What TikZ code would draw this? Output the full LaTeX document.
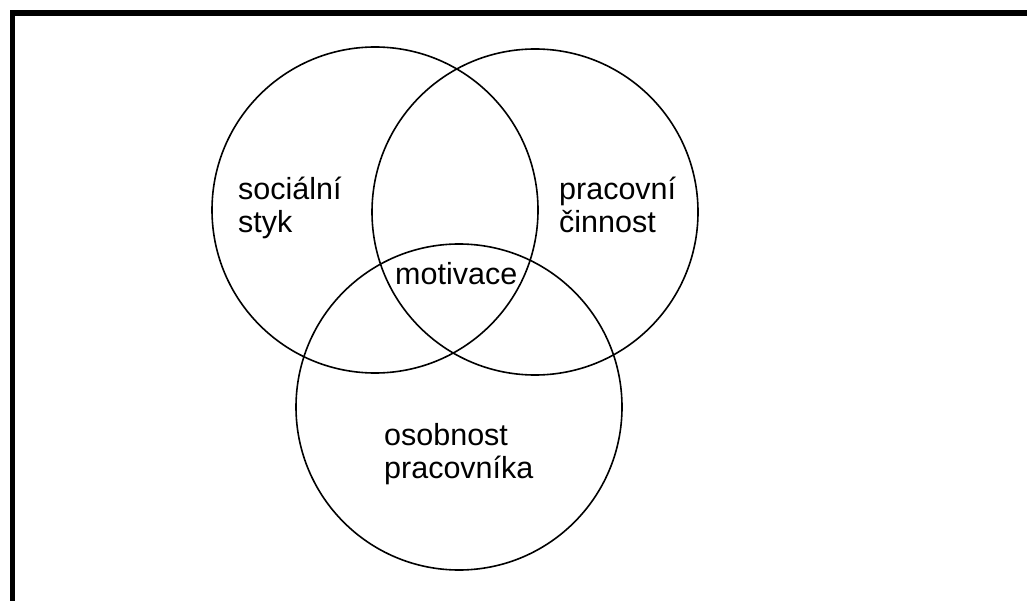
\documentclass[tikz,border=0pt]{standalone}
\usepackage{fontspec}
\setmainfont{Liberation Sans}

\begin{document}
\begin{tikzpicture}[x=1pt, y=-1pt,
    kruh/.style={draw, circle, line width=1.6pt, minimum size=326pt, inner sep=0pt},
    popis/.style={align=left, inner sep=0pt, font=\fontsize{30.5}{33}\selectfont}]
    \useasboundingbox (0,0) rectangle (1027,601);

    % Ramecek
    \draw[line width=5.5pt] (12.5,601) -- (12.5,13) -- (1027,13);

    % Kruhy
    \node[kruh] (kruh_styk) at (375,210) {};
    \node[kruh] (kruh_cinnost) at (535,212) {};
    \node[kruh] (kruh_osobnost) at (459,407) {};

    % Popisky
    \node[popis, anchor=north west] (txt_styk) at (238,177) {sociální\\styk};
    \node[popis, anchor=north west] (txt_cinnost) at (559,177) {pracovní\\činnost};
    \node[popis, anchor=base west] (txt_motivace) at (395,285) {motivace};
    \node[popis, anchor=north west] (txt_osobnost) at (384,423) {osobnost\\pracovníka};
\end{tikzpicture}
\end{document}
